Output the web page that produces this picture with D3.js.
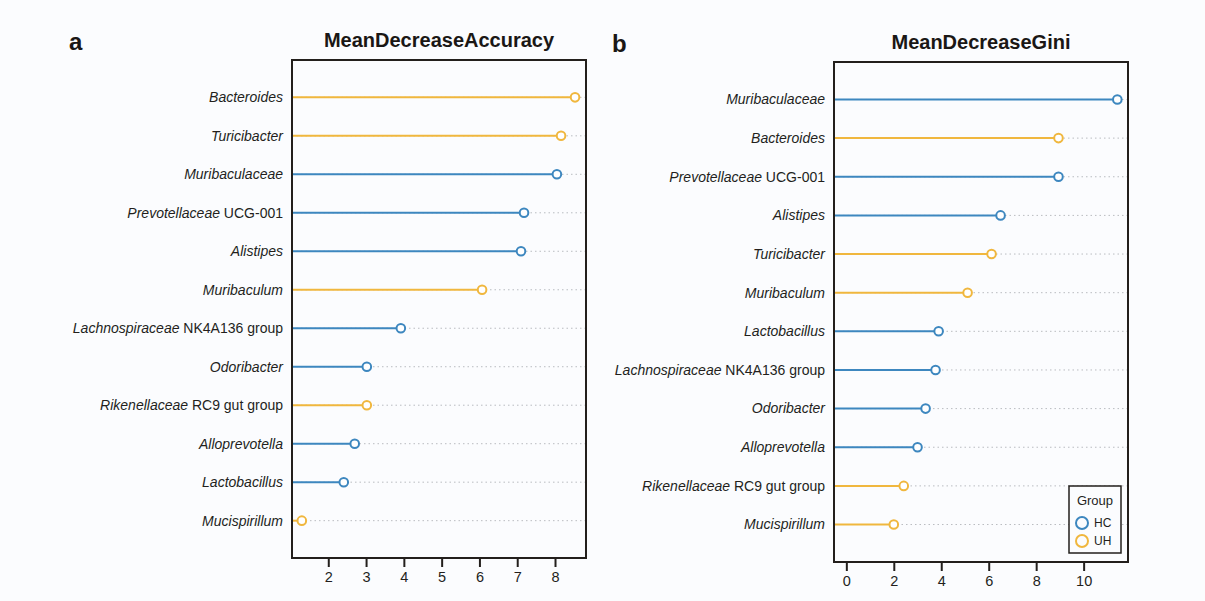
<!DOCTYPE html>
<html>
<head>
<meta charset="utf-8">
<script src="https://cdn.jsdelivr.net/npm/d3@7"></script>
<style>
  html, body { margin: 0; padding: 0; background: #fbfcfe; }
  svg { display: block; font-family: 'Liberation Sans', Arial, sans-serif; }
</style>
</head>
<body>
<svg id="chart" width="1205" height="601"></svg>
<script>
const groupColors = { HC: '#3d87bf', UH: '#f0b73e' }
const groups = ['HC', 'UH']

// panel a: MeanDecreaseAccuracy
const accTaxa = [
  ['Bacteroides', ''],
  ['Turicibacter', ''],
  ['Muribaculaceae', ''],
  ['Prevotellaceae', ' UCG-001'],
  ['Alistipes', ''],
  ['Muribaculum', ''],
  ['Lachnospiraceae', ' NK4A136 group'],
  ['Odoribacter', ''],
  ['Rikenellaceae', ' RC9 gut group'],
  ['Alloprevotella', ''],
  ['Lactobacillus', ''],
  ['Mucispirillum', ''],
]
const accValues = [8.53, 8.16, 8.05, 7.18, 7.1, 6.07, 3.92, 3.02, 3.02, 2.7, 2.41, 1.3]
const accGroups = ['UH', 'UH', 'HC', 'HC', 'HC', 'UH', 'HC', 'HC', 'UH', 'HC', 'HC', 'UH']
const accTicks = [2, 3, 4, 5, 6, 7, 8]

// panel b: MeanDecreaseGini
const giniTaxa = [
  ['Muribaculaceae', ''],
  ['Bacteroides', ''],
  ['Prevotellaceae', ' UCG-001'],
  ['Alistipes', ''],
  ['Turicibacter', ''],
  ['Muribaculum', ''],
  ['Lactobacillus', ''],
  ['Lachnospiraceae', ' NK4A136 group'],
  ['Odoribacter', ''],
  ['Alloprevotella', ''],
  ['Rikenellaceae', ' RC9 gut group'],
  ['Mucispirillum', ''],
]
const giniValues = [11.42, 8.94, 8.94, 6.5, 6.12, 5.11, 3.89, 3.76, 3.34, 3.0, 2.42, 2.0]
const giniGroups = ['HC', 'UH', 'HC', 'HC', 'UH', 'UH', 'HC', 'HC', 'HC', 'HC', 'UH', 'UH']
const giniTicks = [0, 2, 4, 6, 8, 10]

const svg = d3.select('#chart')

function drawPanel(opts) {
  const { id, letter, title, box, domain, taxa, values, grp, ticks } = opts
  const rows = taxa.map((t, i) => ({ key: t[0] + t[1], name: t, value: values[i], group: grp[i] }))

  const x = d3.scaleLinear().domain(domain).range([box.x0, box.x1])
  const y = d3.scalePoint().domain(rows.map((d) => d.key)).range([box.y0, box.y1]).padding(0.97)

  const g = svg.append('g').attr('class', 'panel-' + id)

  g.append('clipPath')
    .attr('id', 'clip-' + id)
    .append('rect')
    .attr('x', box.x0)
    .attr('y', box.y0)
    .attr('width', box.x1 - box.x0)
    .attr('height', box.y1 - box.y0)

  const plot = g.append('g').attr('clip-path', `url(#clip-${id})`)

  // dotted guides
  plot.selectAll('line.guide')
    .data(rows)
    .enter()
    .append('line')
    .attr('class', 'guide')
    .attr('x1', box.x0)
    .attr('x2', box.x1)
    .attr('y1', (d) => y(d.key))
    .attr('y2', (d) => y(d.key))
    .attr('stroke', '#b9bcc0')
    .attr('stroke-width', 1)
    .attr('stroke-dasharray', '1.5,3')

  plot.selectAll('line.stem')
    .data(rows)
    .enter()
    .append('line')
    .attr('class', 'stem')
    .attr('x1', box.x0)
    .attr('x2', (d) => x(d.value))
    .attr('y1', (d) => y(d.key))
    .attr('y2', (d) => y(d.key))
    .attr('stroke', (d) => groupColors[d.group])
    .attr('stroke-width', 2)

  plot.selectAll('circle')
    .data(rows)
    .enter()
    .append('circle')
    .attr('cx', (d) => x(d.value))
    .attr('cy', (d) => y(d.key))
    .attr('r', 4.3)
    .attr('fill', '#fff')
    .attr('stroke', (d) => groupColors[d.group])
    .attr('stroke-width', 2)

  // frame
  g.append('rect')
    .attr('x', box.x0)
    .attr('y', box.y0)
    .attr('width', box.x1 - box.x0)
    .attr('height', box.y1 - box.y0)
    .attr('fill', 'none')
    .attr('stroke', '#231f1c')
    .attr('stroke-width', 2)

  // x axis
  const xAxis = d3.axisBottom(x).tickValues(ticks).tickSize(8).tickPadding(5)
  const ax = g.append('g')
    .attr('transform', `translate(0,${box.y1 + 1})`)
    .call(xAxis)
  ax.select('.domain').remove()
  ax.selectAll('.tick line').attr('stroke', '#231f1c').attr('stroke-width', 2)
  ax.selectAll('.tick text')
    .attr('fill', '#231f1c')
    .style('font-size', '14.5px')
    .style('font-family', "'Liberation Sans', Arial, sans-serif")

  // y labels
  const labels = g.selectAll('text.lab')
    .data(rows)
    .enter()
    .append('text')
    .attr('class', 'lab')
    .attr('x', box.x0 - 9)
    .attr('y', (d) => y(d.key))
    .attr('dy', '0.35em')
    .attr('text-anchor', 'end')
    .style('font-size', '14px')
    .attr('fill', '#231f1c')
  labels.append('tspan').style('font-style', 'italic').text((d) => d.name[0])
  labels.append('tspan').attr('xml:space', 'preserve').text((d) => d.name[1])

  g.append('text')
    .attr('x', (box.x0 + box.x1) / 2)
    .attr('y', box.y0 - 13)
    .attr('text-anchor', 'middle')
    .style('font-size', '20px')
    .style('font-weight', 'bold')
    .attr('fill', '#1a1715')
    .text(title)

  g.append('text')
    .attr('x', letter.x)
    .attr('y', letter.y)
    .style('font-size', '24px')
    .style('font-weight', 'bold')
    .attr('fill', '#1a1715')
    .text(letter.t)

  return { x, y, g }
}

drawPanel({
  id: 'a',
  letter: { t: 'a', x: 69, y: 50 },
  title: 'MeanDecreaseAccuracy',
  box: { x0: 292, x1: 586, y0: 60, y1: 558 },
  domain: [1.04, 8.82],
  taxa: accTaxa,
  values: accValues,
  grp: accGroups,
  ticks: accTicks,
})

const pb = drawPanel({
  id: 'b',
  letter: { t: 'b', x: 612, y: 52 },
  title: 'MeanDecreaseGini',
  box: { x0: 834, x1: 1128, y0: 62, y1: 562 },
  domain: [-0.52, 11.87],
  taxa: giniTaxa,
  values: giniValues,
  grp: giniGroups,
  ticks: giniTicks,
})

// legend
const legend = pb.g.append('g').attr('transform', 'translate(1069,486)')
legend.append('rect')
  .attr('width', 52)
  .attr('height', 67)
  .attr('fill', '#fbfcfe')
  .attr('stroke', '#231f1c')
  .attr('stroke-width', 1.5)
legend.append('text')
  .attr('x', 26)
  .attr('y', 19)
  .attr('text-anchor', 'middle')
  .style('font-size', '13px')
  .attr('fill', '#231f1c')
  .text('Group')
const items = legend.selectAll('g.item')
  .data(groups)
  .enter()
  .append('g')
  .attr('class', 'item')
  .attr('transform', (d, i) => `translate(0,${37 + i * 18})`)
items.append('circle')
  .attr('cx', 13)
  .attr('r', 6)
  .attr('fill', 'none')
  .attr('stroke', (d) => groupColors[d])
  .attr('stroke-width', 2)
items.append('text')
  .attr('x', 25)
  .attr('dy', '0.35em')
  .style('font-size', '12px')
  .attr('fill', '#231f1c')
  .text((d) => d)
</script>
</body>
</html>
